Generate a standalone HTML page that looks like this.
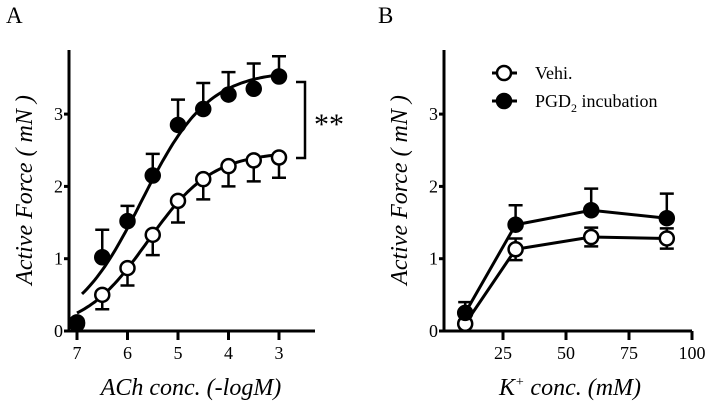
<!DOCTYPE html>
<html><head><meta charset="utf-8"><style>
html,body{margin:0;padding:0;background:#fff;}
svg text{font-family:"Liberation Serif","Times New Roman",Times,"Nimbus Roman","Nimbus Roman No9 L","FreeSerif","DejaVu Serif",serif;}
</style></head><body>
<svg width="708" height="406" viewBox="0 0 708 406" xmlns="http://www.w3.org/2000/svg">
<g id="gA"></g>
<g id="gB"></g>
</svg>
<script>
// Panel A data (x = -logM)
const aX = [7, 6.5, 6, 5.5, 5, 4.5, 4, 3.5, 3];
const aFilled = [0.12, 1.02, 1.52, 2.15, 2.85, 3.07, 3.27, 3.35, 3.52];
const aFilledErr = [0, 0.38, 0.21, 0.3, 0.35, 0.36, 0.31, 0.35, 0.28];
const aOpen = [0.1, 0.5, 0.87, 1.33, 1.8, 2.1, 2.28, 2.36, 2.4];
const aOpenErr = [0, 0.2, 0.24, 0.28, 0.3, 0.28, 0.28, 0.29, 0.28];
const aFitFilled = [0, 3.6, 5.72, 0.66]; // bottom, top, pEC50, hill
const aFitOpen = [0, 2.48, 5.6, 0.68];
const aXTicks = [7, 6, 5, 4, 3];
const yTicks = [0, 1, 2, 3];
// Panel B data
const bX = [10, 30, 60, 90];
const bFilled = [0.25, 1.47, 1.67, 1.56];
const bFilledErr = [0.15, 0.27, 0.3, 0.34];
const bOpen = [0.1, 1.13, 1.3, 1.28];
const bOpenErr = [0.05, 0.15, 0.13, 0.14];
const bXTicks = [25, 50, 75, 100];

const NS = "http://www.w3.org/2000/svg";
function mk(parent, tag, attrs, text) {
  const e = document.createElementNS(NS, tag);
  for (const k in attrs) e.setAttribute(k, attrs[k]);
  if (text !== undefined) e.textContent = text;
  parent.appendChild(e);
  return e;
}
const yS = v => 331 - v * 72.3;
const axA = v => 77 + (7 - v) * 50.5;
const axB = v => 440 + v * 2.52;

function axes(g, x0, x1, xs, ticks, yLeft) {
  let e = mk(g, "line", {x1: x0, y1: 331, x2: x1, y2: 331, stroke: "#000", "stroke-width": 3});
  
  
  e = mk(g, "line", {x1: x0, y1: 331, x2: x0, y2: 50, stroke: "#000", "stroke-width": 3});
  
  
  ticks.forEach(t => {
    const x = xs(t);
    let l = mk(g, "line", {x1: x, y1: 331, x2: x, y2: 340, stroke: "#000", "stroke-width": 3});
    
    
    let tx = mk(g, "text", {x: x, y: 359, "font-size": 18, "text-anchor": "middle"}, t);
    
    
  });
  yTicks.forEach(t => {
    const y = yS(t);
    let l = mk(g, "line", {x1: x0 - 5, y1: y, x2: x0, y2: y, stroke: "#000", "stroke-width": 3});
    
    
    let tx = mk(g, "text", {x: x0 - 6, y: y + 6, "font-size": 18, "text-anchor": "end"}, t);
    
    
  });
  let yt = mk(g, "text", {x: 0, y: 0, "font-size": 24, "font-style": "italic", "text-anchor": "middle", transform: `translate(${yLeft},190) rotate(-90)`}, "Active Force ( mN )");
  
  
}
function errs(g, xs, X, Y, E, up, down) {
  X.forEach((x, i) => {
    if (!E[i]) return;
    const px = xs(x);
    if (up) {
      let l = mk(g, "path", {d: `M${px},${yS(Y[i])}V${yS(Y[i] + E[i])}M${px - 7},${yS(Y[i] + E[i])}H${px + 7}`, stroke: "#000", "stroke-width": 2.5, fill: "none"});
      
      
    }
    if (down) {
      let l = mk(g, "path", {d: `M${px},${yS(Y[i])}V${yS(Y[i] - E[i])}M${px - 7},${yS(Y[i] - E[i])}H${px + 7}`, stroke: "#000", "stroke-width": 2.5, fill: "none"});
      
      
    }
  });
}
function pts(g, xs, X, Y, filled) {
  X.forEach((x, i) => {
    let c = mk(g, "circle", {cx: xs(x), cy: yS(Y[i]), r: 7, fill: filled ? "#000" : "#fff", stroke: "#000", "stroke-width": 2.5});
    
    
  });
}
function fitPath(p, from, to) {
  let d = "";
  for (let v = from; v >= to - 1e-9; v -= 0.05) {
    const y = p[0] + (p[1] - p[0]) / (1 + Math.pow(10, (v - p[2]) * p[3]));
    d += (d ? "L" : "M") + axA(v).toFixed(1) + "," + yS(y).toFixed(1);
  }
  return d;
}

// Panel A
const gA = document.getElementById("gA");
axes(gA, 69, 315, axA, aXTicks, 32);
let f1 = mk(gA, "path", {d: fitPath(aFitFilled, 6.9, 3), stroke: "#000", "stroke-width": 3, fill: "none"});


let f2 = mk(gA, "path", {d: fitPath(aFitOpen, 7, 3), stroke: "#000", "stroke-width": 3, fill: "none"});


errs(gA, axA, aX, aFilled, aFilledErr, true, false);
errs(gA, axA, aX, aOpen, aOpenErr, false, true);
pts(gA, axA, aX, aOpen, false);
pts(gA, axA, aX, aFilled, true);
let br = mk(gA, "path", {d: "M296,82H305V158H296", stroke: "#000", "stroke-width": 2.5, fill: "none"});


let st = mk(gA, "text", {x: 314, y: 134, "font-size": 30}, "**");


let xa = mk(gA, "text", {x: 191, y: 395, "font-size": 24, "font-style": "italic", "text-anchor": "middle"}, "ACh conc. (-logM)");


let la = mk(gA, "text", {x: 6, y: 23, "font-size": 23}, "A");



// Panel B
const gB = document.getElementById("gB");
axes(gB, 444, 692, axB, bXTicks, 407);
function line(g, X, Y, name) {
  let d = X.map((x, i) => (i ? "L" : "M") + axB(x) + "," + yS(Y[i])).join("");
  let p = mk(g, "path", {d: d, stroke: "#000", "stroke-width": 3, fill: "none"});
  
  
}
line(gB, bX, bOpen, 'line-vehicle');
line(gB, bX, bFilled, 'line-pgd2');
errs(gB, axB, bX, bFilled, bFilledErr, true, false);
errs(gB, axB, bX, bOpen, bOpenErr, true, true);
pts(gB, axB, bX, bOpen, false);
pts(gB, axB, bX, bFilled, true);
let xb = mk(gB, "text", {x: 570, y: 395, "font-size": 24, "font-style": "italic", "text-anchor": "middle"});


xb.innerHTML = 'K<tspan dy="-9" font-size="14">+</tspan><tspan dy="9"> conc. (mM)</tspan>';
let lb = mk(gB, "text", {x: 378, y: 23, "font-size": 23}, "B");



// Legend
const lg = mk(gB, "g", {});


[[73, false, "Vehi."], [101, true, null]].forEach(r => {
  let ln = mk(lg, "line", {x1: 492, y1: r[0], x2: 517, y2: r[0], stroke: "#000", "stroke-width": 3});
  
  
  let c = mk(lg, "circle", {cx: 504, cy: r[0], r: 7, fill: r[1] ? "#000" : "#fff", stroke: "#000", "stroke-width": 2.5});
  
  
  let t = mk(lg, "text", {x: 535, y: r[0] + 6, "font-size": 18});
  
  
  if (r[2]) t.textContent = r[2];
  else t.innerHTML = 'PGD<tspan dy="5" font-size="12">2</tspan><tspan dy="-5"> incubation</tspan>';
});
</script>
</body></html>
